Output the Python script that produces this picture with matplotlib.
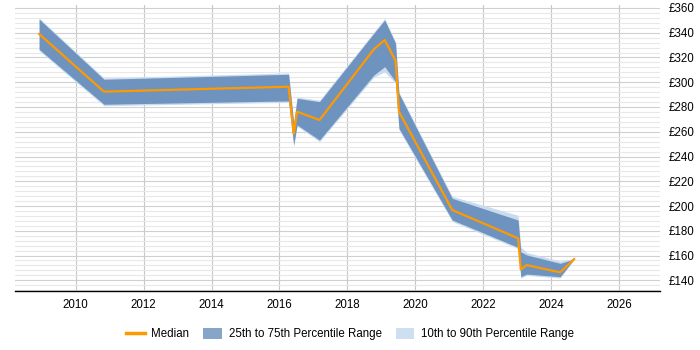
import matplotlib
matplotlib.use("Agg")
import matplotlib.pyplot as plt
from matplotlib.patches import Patch
from matplotlib.lines import Line2D
from matplotlib.ticker import MultipleLocator, FuncFormatter

plt.rcParams['font.family'] = ['Liberation Sans', 'DejaVu Sans']

years = [2008.92, 2010.83, 2016.27, 2016.42, 2016.52, 2017.18, 2018.78, 2019.10,
         2019.42, 2019.52, 2021.09, 2023.03, 2023.11, 2023.28, 2024.27, 2024.68]
median = [339.0, 292.4, 296.4, 258.2, 276.2, 269.5, 326.6, 334.1,
          317.4, 276.2, 196.8, 173.9, 148.8, 152.3, 146.4, 157.1]
p75 = [351.0, 302.4, 306.4, 266.8, 287.0, 284.3, 339.5, 350.3,
       331.5, 291.0, 206.2, 188.7, 163.0, 160.5, 153.7, 157.1]
p25 = [326.6, 282.2, 284.9, 249.3, 265.5, 253.3, 305.8, 312.6,
       300.5, 262.8, 188.7, 166.6, 142.9, 145.0, 142.9, 157.1]
p90 = [352.0, 303.5, 307.5, 268.0, 288.0, 285.5, 340.5, 351.5,
       332.5, 292.0, 207.8, 192.5, 167.0, 162.5, 155.5, 157.5]
p10 = [325.5, 281.0, 283.8, 248.0, 264.5, 252.0, 304.0, 308.5,
       299.0, 261.5, 187.5, 165.5, 141.8, 144.0, 141.8, 156.8]

fig = plt.figure(figsize=(7, 3.5), dpi=100)
ax = fig.add_axes([15/700, 1-291/350, 645/700, 286/350])

ax.fill_between(years, p10, p90, color='#c9dbee', lw=0, zorder=2)
ax.fill_between(years, p25, p75, color='#6f93bf', lw=0, zorder=3)
ax.plot(years, median, color='#ff9900', lw=1.6, zorder=4)

ax.set_xlim(2008.21, 2027.21)
ax.set_ylim(131.35, 362.4)
ax.xaxis.set_major_locator(MultipleLocator(2))
ax.yaxis.set_major_locator(MultipleLocator(20))
ax.yaxis.set_minor_locator(MultipleLocator(4))
ax.yaxis.set_major_formatter(FuncFormatter(lambda v, p: f"£{int(v)}"))
ax.xaxis.set_major_formatter(FuncFormatter(lambda v, p: f"{int(v)}"))
ax.yaxis.tick_right()
ax.grid(True, which='major', axis='x', color='#c8c8c8', lw=0.8, zorder=0)
ax.grid(True, which='major', axis='y', color='#d0d0d0', lw=0.8, zorder=0)
ax.grid(True, which='minor', axis='y', color='#e8e8e8', lw=0.8, zorder=0)
ax.set_axisbelow(True)
ax.tick_params(axis='both', which='both', length=0, labelsize=8.3, colors='#000000')
ax.tick_params(axis='y', pad=6)
ax.tick_params(axis='x', pad=6)
for s in ['top', 'left', 'right']:
    ax.spines[s].set_visible(False)
ax.spines['bottom'].set_color('#000000')
ax.spines['bottom'].set_linewidth(1.0)

handles = [Line2D([0], [0], color='#ff9900', lw=2.5),
           Patch(facecolor='#87a5c8', edgecolor='none'),
           Patch(facecolor='#cddff0', edgecolor='none')]
labels = ['Median', '25th to 75th Percentile Range', '10th to 90th Percentile Range']
fig.legend(handles, labels, loc='center', bbox_to_anchor=(0.5, 1-334/350), ncol=3,
           frameon=False, fontsize=8.3, handlelength=1.6, handleheight=1.2,
           columnspacing=1.2, handletextpad=0.6)

fig.savefig('out.png', dpi=100)
